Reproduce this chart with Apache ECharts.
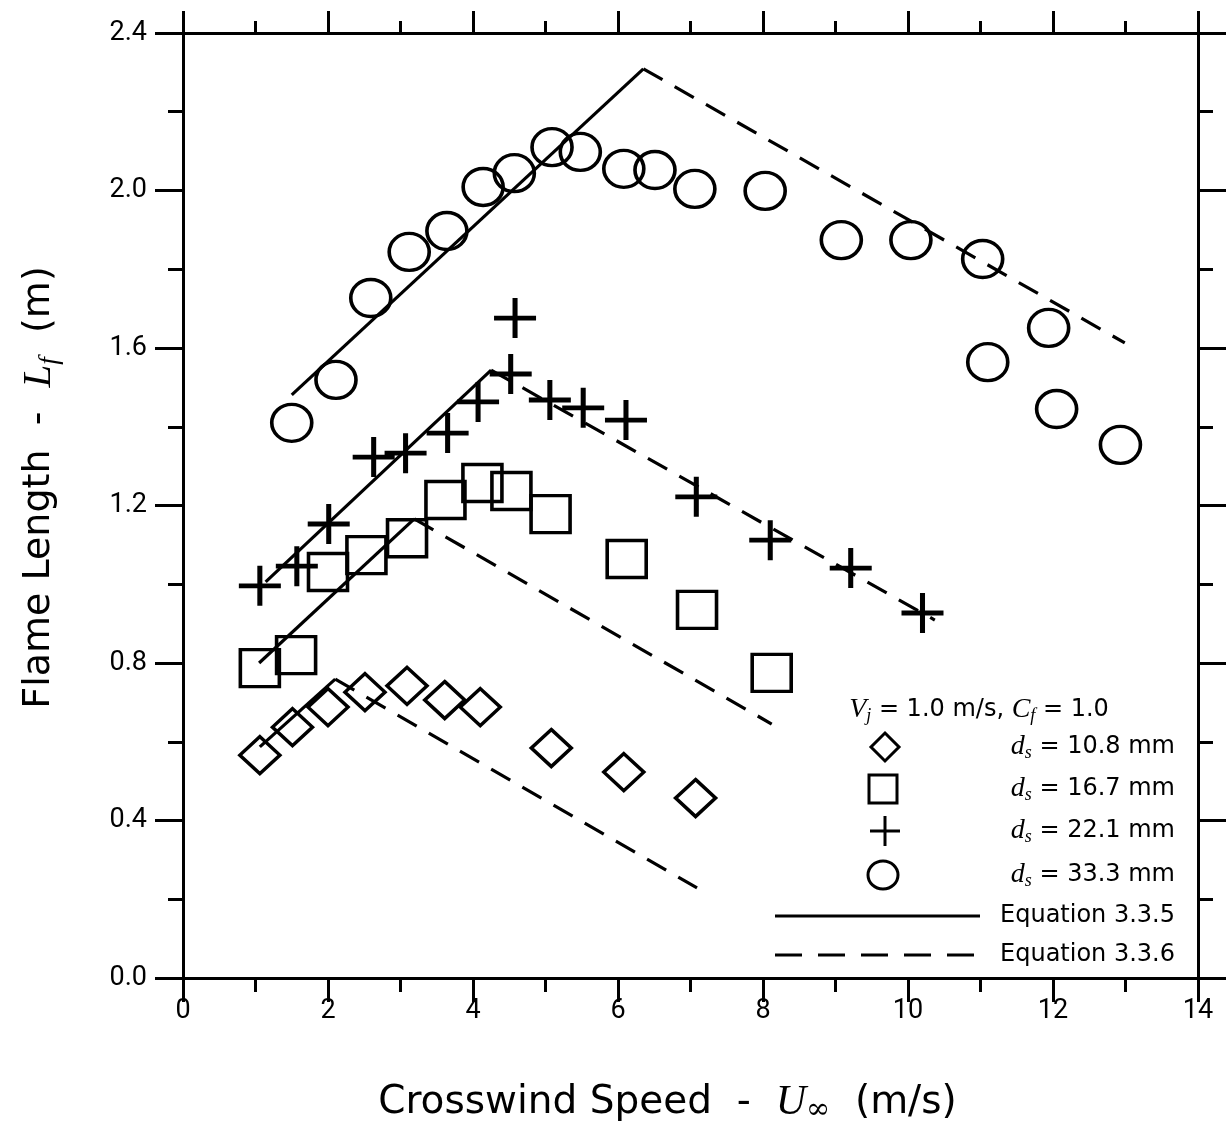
<!DOCTYPE html>
<html><head><meta charset="utf-8">
<script src="https://cdn.jsdelivr.net/npm/echarts@6/dist/echarts.min.js"></script>
<style>html,body{margin:0;padding:0;background:#fff}#c{width:1229px;height:1131px}</style>
</head><body><div id="c"></div>
<script>
// ---- data ----
const xTickValues = [0, 2, 4, 6, 8, 10, 12, 14];
const yTickValues = [0.0, 0.4, 0.8, 1.2, 1.6, 2.0, 2.4];

const ds108 = [[1.06,0.566],[1.51,0.637],[2.00,0.688],[2.51,0.726],[3.09,0.742],[3.61,0.706],[4.10,0.688],[5.08,0.584],[6.08,0.523],[7.07,0.457]];
const ds167 = [[1.06,0.787],[1.56,0.820],[2.00,1.031],[2.53,1.074],[3.09,1.117],[3.62,1.214],[4.13,1.257],[4.53,1.237],[5.07,1.178],[6.12,1.064],[7.09,0.935],[8.12,0.775]];
const ds221 = [[1.06,0.996],[1.57,1.046],[2.01,1.153],[2.63,1.323],[3.07,1.333],[3.65,1.384],[4.07,1.463],[4.52,1.534],[4.58,1.676],[5.06,1.468],[5.52,1.448],[6.11,1.417],[7.08,1.222],[8.10,1.112],[9.21,1.041],[10.20,0.927]];
const ds333 = [[1.50,1.410],[2.11,1.519],[2.59,1.727],[3.12,1.844],[3.64,1.897],[4.14,2.009],[4.57,2.044],[5.09,2.110],[5.48,2.098],[6.08,2.055],[6.51,2.052],[7.06,2.004],[8.03,1.999],[9.08,1.874],[10.04,1.874],[11.03,1.826],[11.10,1.564],[11.94,1.651],[12.05,1.445],[12.93,1.354]];

// Equation 3.3.5 (solid) and 3.3.6 (dashed)
const eq335_108 = [[1.06,0.587],[2.10,0.759]];
const eq336_108 = [[2.10,0.759],[7.09,0.229]];
const eq335_167 = [[1.05,0.800],[3.19,1.166]];
const eq336_167 = [[3.19,1.166],[8.12,0.645]];
const eq335_221 = [[1.14,1.006],[4.25,1.544]];
const eq336_221 = [[4.25,1.544],[10.37,0.909]];
const eq335_333 = [[1.50,1.481],[6.35,2.309]];
const eq336_333 = [[6.35,2.309],[12.99,1.613]];

const legendLabels = ['10.8', '16.7', '22.1', '33.3'];

// ---- chart ----
const SANS = 'DejaVu Sans';
const TICKF = 'Roboto';
const MATH = 'Liberation Serif';
const chart = echarts.init(document.getElementById('c'), null, {renderer: 'canvas'});
const hollow = 'rgba(0,0,0,0)';
const mk = (sym, size) => ({
  type: 'scatter', symbol: sym, symbolSize: size, z: 3,
  itemStyle: {color: hollow, borderColor: '#000', borderWidth: 3.5, opacity: 1}
});
const plusPath = 'path://M44,0 L56,0 L56,44 L100,44 L100,56 L56,56 L56,100 L44,100 L44,56 L0,56 L0,44 L44,44 Z';
const ellipsePath = 'path://M0,50 A50,50 0 1 1 100,50 A50,50 0 1 1 0,50 Z';
const ln = (data, dashed) => ({
  type: 'line', data, symbol: 'none', z: 2,
  lineStyle: {color: '#000', width: 3.2, type: dashed ? [22, 14] : 'solid'}
});

const axisCommon = {
  type: 'value',
  axisLine: {show: true, onZero: false, lineStyle: {color: '#000', width: 3}},
  axisTick: {show: true, inside: false, lineStyle: {color: '#000', width: 3}},
  minorTick: {show: true, splitNumber: 2, lineStyle: {color: '#000', width: 3}},
  splitLine: {show: false}
};

const NAMEFS = 38;
const richY = {
  a0: {fontFamily: SANS, fontSize: NAMEFS, color: '#000', padding: [0, 0, 0, 36]},
  a: {fontFamily: SANS, fontSize: NAMEFS, color: '#000'},
  i: {fontFamily: MATH, fontStyle: 'italic', fontSize: 41, color: '#000'},
  sub: {fontFamily: MATH, fontStyle: 'italic', fontSize: 27, color: '#000', padding: [20, 0, 0, 0]}
};
const richX = {
  a: {fontFamily: SANS, fontSize: 39, color: '#000'},
  a1: {fontFamily: SANS, fontSize: 39, color: '#000', padding: [0, 46, 0, 0]},
  i: {fontFamily: MATH, fontStyle: 'italic', fontSize: 42, color: '#000'},
  sub: {fontFamily: 'DejaVu Serif', fontSize: 29, color: '#000', padding: [16, 0, 0, 0]}
};

const legRich = {
  n: {fontFamily: SANS, fontSize: 24, color: '#000'},
  i: {fontFamily: MATH, fontStyle: 'italic', fontSize: 28, color: '#000'},
  sub: {fontFamily: MATH, fontStyle: 'italic', fontSize: 18, color: '#000', padding: [12, 0, 0, 0]}
};

const graphic = [];
const LX = 1175;
const rowsY = [747, 789, 831, 875];
legendLabels.forEach((lab, k) => {
  graphic.push({type: 'text', x: LX, y: rowsY[k], style: {
    text: '{i|d}{sub|s}{n| = ' + lab + ' mm}', rich: legRich, align: 'right', verticalAlign: 'middle'}});
});
graphic.push({type: 'text', x: 979, y: 710, style: {
  text: '{i|V}{sub|j}{n| = 1.0 m/s, }{i|C}{sub|f}{n| = 1.0}', rich: legRich, align: 'center', verticalAlign: 'middle'}});
const st = {stroke: '#000', lineWidth: 3, fill: null};
graphic.push({type: 'polygon', shape: {points: [[885,733],[899,747],[885,761],[871,747]]}, style: st});
graphic.push({type: 'rect', shape: {x: 869, y: 775, width: 28, height: 28}, style: st});
graphic.push({type: 'line', shape: {x1: 870, y1: 831, x2: 900, y2: 831}, style: st});
graphic.push({type: 'line', shape: {x1: 885, y1: 816, x2: 885, y2: 846}, style: st});
graphic.push({type: 'ellipse', shape: {cx: 883, cy: 875, rx: 15, ry: 14}, style: st});
graphic.push({type: 'line', shape: {x1: 775, y1: 916, x2: 980, y2: 916}, style: st});
graphic.push({type: 'line', shape: {x1: 775, y1: 955, x2: 980, y2: 955}, style: {stroke: '#000', lineWidth: 3, lineDash: [27, 16]}});
graphic.push({type: 'text', x: LX, y: 916, style: {text: 'Equation 3.3.5', font: '24px ' + SANS, fill: '#000', align: 'right', verticalAlign: 'middle'}});
graphic.push({type: 'text', x: LX, y: 955, style: {text: 'Equation 3.3.6', font: '24px ' + SANS, fill: '#000', align: 'right', verticalAlign: 'middle'}});

const option = {
  animation: false,
  backgroundColor: '#fff',
  grid: {left: 183, right: 31, top: 33, bottom: 153, outerBoundsMode: 'none', containLabel: false},
  xAxis: [
    Object.assign({}, axisCommon, {
      position: 'bottom', min: 0, max: 14, interval: 2,
      axisTick: Object.assign({}, axisCommon.axisTick, {length: 24}),
      minorTick: Object.assign({}, axisCommon.minorTick, {length: 14}),
      axisLabel: {fontFamily: TICKF, fontSize: 27, color: '#000', margin: 20,
        formatter: v => xTickValues.includes(v) ? String(v) : ''},
      name: '{a|Crosswind Speed  -  }{i|U}{sub|∞}{a1|  (m/s)}',
      nameLocation: 'middle', nameGap: 102,
      nameTextStyle: {rich: richX}
    }),
    Object.assign({}, axisCommon, {
      position: 'top', min: 0, max: 14, interval: 2,
      axisTick: Object.assign({}, axisCommon.axisTick, {length: 22}),
      minorTick: Object.assign({}, axisCommon.minorTick, {length: 12}),
      axisLabel: {show: false}
    })
  ],
  yAxis: [
    Object.assign({}, axisCommon, {
      position: 'left', min: 0, max: 2.4, interval: 0.4,
      axisTick: Object.assign({}, axisCommon.axisTick, {length: 28}),
      minorTick: Object.assign({}, axisCommon.minorTick, {length: 15}),
      axisLabel: {fontFamily: TICKF, fontSize: 27, color: '#000', margin: 36,
        formatter: v => v.toFixed(1)},
      name: '{a0|Flame Length  -  }{i|L}{sub|f}{a|  (m)}',
      nameLocation: 'middle', nameGap: 120, nameRotate: 90,
      nameTextStyle: {rich: richY}
    }),
    Object.assign({}, axisCommon, {
      position: 'right', min: 0, max: 2.4, interval: 0.4,
      axisTick: Object.assign({}, axisCommon.axisTick, {length: 28}),
      minorTick: Object.assign({}, axisCommon.minorTick, {length: 15}),
      axisLabel: {show: false}
    })
  ],
  series: [
    ln(eq335_108, false), ln(eq336_108, true),
    ln(eq335_167, false), ln(eq336_167, true),
    ln(eq335_221, false), ln(eq336_221, true),
    ln(eq335_333, false), ln(eq336_333, true),
    Object.assign(mk('diamond', [40, 37]), {name: 'ds108', data: ds108}),
    Object.assign(mk('rect', [39, 37]), {name: 'ds167', data: ds167}),
    Object.assign(mk(plusPath, [42, 40]), {name: 'ds221', data: ds221, itemStyle: {color: '#000', borderWidth: 0, opacity: 1}}),
    Object.assign(mk(ellipsePath, [40, 37]), {name: 'ds333', data: ds333})
  ],
  graphic
};
chart.setOption(option);
</script>
</body></html>
